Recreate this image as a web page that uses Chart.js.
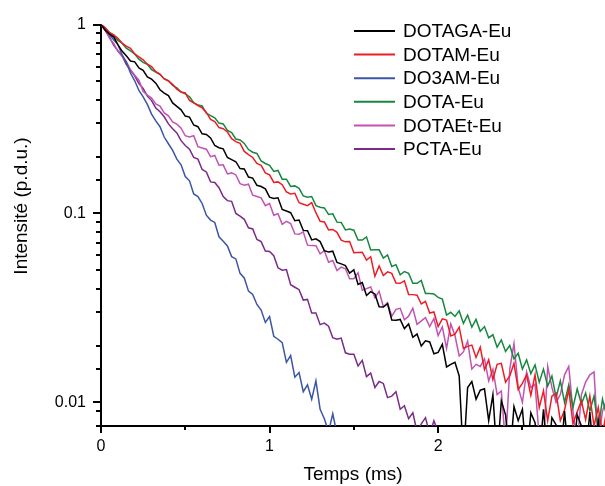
<!DOCTYPE html>
<html>
<head>
<meta charset="utf-8">
<script src="https://cdn.jsdelivr.net/npm/chart.js@4/dist/chart.umd.min.js"></script>
<style>
html,body{margin:0;padding:0;background:#fff;}
#wrap{width:605px;height:486px;position:relative;}
canvas{display:block;}
</style>
</head>
<body>
<div id="wrap"><canvas id="c" width="605" height="486"></canvas></div>
<script>
// time grid (ms)
const time = [0,0.025,0.05,0.075,0.1,0.125,0.15,0.175,0.2,0.225,
0.25,0.275,0.3,0.325,0.35,0.375,0.4,0.425,0.45,0.475,
0.5,0.525,0.55,0.575,0.6,0.625,0.65,0.675,0.7,0.725,
0.75,0.775,0.8,0.825,0.85,0.875,0.9,0.925,0.95,0.975,
1,1.025,1.05,1.075,1.1,1.125,1.15,1.175,1.2,1.225,
1.25,1.275,1.3,1.325,1.35,1.375,1.4,1.425,1.45,1.475,
1.5,1.525,1.55,1.575,1.6,1.625,1.65,1.675,1.7,1.725,
1.75,1.775,1.8,1.825,1.85,1.875,1.9,1.925,1.95,1.975,
2,2.025,2.05,2.075,2.1,2.125,2.15,2.175,2.2,2.225,
2.25,2.275,2.3,2.325,2.35,2.375,2.4,2.425,2.45,2.475,
2.5,2.525,2.55,2.575,2.6,2.625,2.65,2.675,2.7,2.725,
2.75,2.775,2.8,2.825,2.85,2.875,2.9,2.925,2.95,2.975,
3];

const dotaga = [1,0.933,0.891,0.861,0.784,0.724,0.684,0.642,0.635,0.589,
0.572,0.529,0.514,0.490,0.452,0.434,0.421,0.385,0.369,0.354,
0.328,0.324,0.294,0.288,0.264,0.262,0.251,0.229,0.223,0.220,
0.198,0.193,0.188,0.173,0.172,0.156,0.154,0.141,0.139,0.135,
0.122,0.120,0.121,0.105,0.103,0.101,0.0915,0.0923,0.0814,0.0810,
0.0725,0.0734,0.0710,0.0636,0.0625,0.0632,0.0551,0.0541,0.0530,0.0484,
0.0503,0.0421,0.0431,0.0368,0.0386,0.0375,0.0321,0.0320,0.0333,0.0273,
0.0272,0.0275,0.0246,0.0260,0.0221,0.0230,0.0199,0.0212,0.0209,0.0181,
0.0184,0.0203,0.0154,0.0159,0.0163,0.0138,0.0050,0.0120,0.0129,0.0104,
0.0116,0.0118,0.0080,0.0110,0.0050,0.0102,0.0086,0.0050,0.0095,0.0080,
0.0092,0.0050,0.0088,0.0078,0.0050,0.0092,0.0050,0.0083,0.0076,0.0050,
0.0090,0.0050,0.0050,0.0086,0.0075,0.0050,0.0089,0.0050,0.0080,0.0050,
0.0084];

const dotam = [1,0.961,0.905,0.881,0.846,0.798,0.769,0.748,0.699,0.675,
0.651,0.617,0.600,0.563,0.547,0.516,0.502,0.483,0.455,0.440,
0.435,0.397,0.385,0.373,0.362,0.343,0.315,0.307,0.285,0.281,
0.270,0.249,0.240,0.235,0.213,0.205,0.198,0.184,0.180,0.164,
0.160,0.146,0.147,0.142,0.130,0.127,0.128,0.114,0.112,0.110,
0.114,0.101,0.0910,0.0902,0.0819,0.0823,0.0795,0.0722,0.0708,0.0710,
0.0620,0.0622,0.0624,0.0566,0.0590,0.0465,0.0528,0.0469,0.0491,0.0482,
0.0429,0.0427,0.0440,0.0373,0.0372,0.0369,0.0332,0.0343,0.0297,0.0301,
0.0252,0.0277,0.0273,0.0225,0.0230,0.0250,0.0193,0.0198,0.0201,0.0173,
0.0196,0.0149,0.0168,0.0132,0.0159,0.0161,0.0128,0.0138,0.0161,0.0117,
0.0126,0.0140,0.0109,0.0140,0.0094,0.0115,0.0080,0.0108,0.0112,0.0080,
0.0091,0.0117,0.0077,0.0089,0.0102,0.0081,0.0108,0.0075,0.0094,0.0068,
0.0090];

const do3am = [1,0.953,0.887,0.832,0.784,0.694,0.633,0.554,0.504,0.448,
0.414,0.378,0.336,0.309,0.288,0.254,0.234,0.216,0.194,0.181,
0.157,0.149,0.127,0.123,0.113,0.0980,0.0923,0.0897,0.0753,0.0713,
0.0673,0.0591,0.0575,0.0482,0.0456,0.0388,0.0373,0.0330,0.0308,0.0265,
0.0285,0.0224,0.0216,0.0207,0.0163,0.0177,0.0136,0.0144,0.0114,0.0124,
0.0104,0.0130,0.0092,0.0082,0.0070,0.0087,0.0068];

const dota = [1,0.963,0.908,0.881,0.825,0.797,0.750,0.727,0.698,0.656,
0.631,0.617,0.578,0.561,0.544,0.517,0.505,0.476,0.463,0.439,
0.430,0.415,0.386,0.375,0.371,0.340,0.330,0.321,0.301,0.298,
0.275,0.268,0.248,0.245,0.235,0.218,0.211,0.208,0.190,0.184,
0.180,0.167,0.169,0.152,0.152,0.139,0.140,0.136,0.124,0.122,
0.123,0.110,0.108,0.107,0.0988,0.0996,0.0900,0.0897,0.0819,0.0828,
0.0816,0.0724,0.0724,0.0752,0.0641,0.0642,0.0642,0.0580,0.0603,0.0524,
0.0536,0.0474,0.0493,0.0482,0.0427,0.0427,0.0442,0.0377,0.0377,0.0375,
0.0360,0.0352,0.0290,0.0300,0.0285,0.0305,0.0262,0.0290,0.0250,0.0275,
0.0238,0.0252,0.0220,0.0228,0.0196,0.0214,0.0186,0.0200,0.0170,0.0182,
0.0150,0.0168,0.0142,0.0158,0.0128,0.0150,0.0122,0.0138,0.0106,0.0130,
0.0100,0.0124,0.0094,0.0118,0.0098,0.0112,0.0090,0.0108,0.0072,0.0104,
0.0085];

const dotaet = [1,0.936,0.848,0.794,0.722,0.679,0.636,0.577,0.540,0.508,
0.442,0.424,0.408,0.380,0.370,0.341,0.329,0.305,0.297,0.283,
0.258,0.254,0.258,0.226,0.222,0.219,0.200,0.203,0.180,0.181,
0.162,0.164,0.160,0.144,0.141,0.143,0.125,0.123,0.121,0.110,
0.113,0.0979,0.0997,0.0877,0.0909,0.0885,0.0780,0.0776,0.0800,0.0680,
0.0676,0.0675,0.0612,0.0635,0.0552,0.0564,0.0499,0.0520,0.0510,0.0451,
0.0452,0.0486,0.0392,0.0400,0.0408,0.0358,0.0387,0.0321,0.0337,0.0286,
0.0311,0.0315,0.0274,0.0286,0.0315,0.0259,0.0270,0.0281,0.0252,0.0278,
0.0226,0.0251,0.0193,0.0260,0.0226,0.0176,0.0185,0.0211,0.0150,0.0159,
0.0155,0.0170,0.0130,0.0150,0.0110,0.0115,0.0060,0.0150,0.0205,0.0120,
0.0100,0.0145,0.0120,0.0125,0.0065,0.0060,0.0155,0.0120,0.0100,0.0110,
0.0140,0.0155,0.0090,0.0060,0.0110,0.0128,0.0140,0.0145,0.0060,0.0090,
0.0103];

const pcta = [1,0.929,0.862,0.780,0.728,0.685,0.615,0.573,0.535,0.487,
0.459,0.418,0.396,0.362,0.346,0.325,0.298,0.281,0.267,0.243,
0.229,0.219,0.198,0.194,0.171,0.166,0.147,0.146,0.137,0.123,
0.117,0.116,0.100,0.0968,0.0931,0.0840,0.0828,0.0729,0.0710,0.0633,
0.0629,0.0598,0.0516,0.0501,0.0505,0.0420,0.0407,0.0395,0.0348,0.0351,
0.0297,0.0297,0.0258,0.0263,0.0253,0.0220,0.0216,0.0219,0.0183,0.0180,
0.0180,0.0156,0.0167,0.0137,0.0143,0.0120,0.0129,0.0126,0.0106,0.0108,
0.0114,0.0092,0.0096,0.0082,0.0088,0.0070,0.0077,0.0083,0.0068,0.0080,
0.0070];

const seriesNames = ['DOTAGA-Eu','DOTAM-Eu','DO3AM-Eu','DOTA-Eu','DOTAEt-Eu','PCTA-Eu'];
const seriesValues = [dotaga, dotam, do3am, dota, dotaet, pcta];
const seriesColors = ['#000000','#ED1C24','#3B56A6','#17873F','#C353B2','#7B2A8A'];
const yTickLabels = [1, 0.1, 0.01];
const xTickLabels = [0, 1, 2];

const FONT = '"Liberation Sans", Arial, Helvetica, sans-serif';
Chart.defaults.font.family = FONT;
Chart.defaults.color = '#000';

const datasets = seriesNames.map((name, i) => ({
  label: name,
  data: seriesValues[i].map((v, k) => ({x: time[k], y: v})),
  borderColor: seriesColors[i],
  backgroundColor: seriesColors[i],
  borderWidth: 1.5,
  pointRadius: 0,
  tension: 0,
  fill: false
}));

const isPow10 = v => { const l = Math.log10(v); return Math.abs(l - Math.round(l)) < 1e-6; };

const axisTicks = {
  id: 'axisTicks',
  afterDraw(chart) {
    const {ctx, chartArea: a} = chart;
    const xs = chart.scales.x, ys = chart.scales.y;
    ctx.save();
    ctx.strokeStyle = '#000';
    ctx.lineWidth = 2;
    xs.ticks.forEach(t => {
      const px = Math.round(xs.getPixelForValue(t.value));
      const major = Math.abs(t.value - Math.round(t.value)) < 1e-6;
      ctx.beginPath();
      ctx.moveTo(px, a.bottom);
      ctx.lineTo(px, a.bottom + (major ? 7 : 4));
      ctx.stroke();
    });
    ys.ticks.forEach(t => {
      const py = Math.round(ys.getPixelForValue(t.value));
      if (py < a.top - 1 || py > a.bottom + 1) return;
      const major = isPow10(t.value);
      ctx.beginPath();
      ctx.moveTo(a.left, py);
      ctx.lineTo(a.left - (major ? 8 : 5), py);
      ctx.stroke();
    });
    // y axis title
    ctx.save();
    ctx.translate(22, 206);
    ctx.rotate(-Math.PI / 2);
    ctx.font = '19px ' + FONT;
    ctx.fillStyle = '#000';
    ctx.textAlign = 'center';
    ctx.textBaseline = 'middle';
    ctx.fillText('Intensité (p.d.u.)', 0, 0);
    ctx.restore();
    ctx.restore();
  }
};

const legendBox = {
  id: 'legendBox',
  afterDraw(chart) {
    const ctx = chart.ctx;
    ctx.save();
    ctx.font = '19px ' + FONT;
    ctx.textBaseline = 'middle';
    ctx.textAlign = 'left';
    chart.data.datasets.forEach((ds, i) => {
      const y = 31 + i * 23.6;
      ctx.strokeStyle = ds.borderColor;
      ctx.lineWidth = 2;
      ctx.beginPath();
      ctx.moveTo(354, y);
      ctx.lineTo(395, y);
      ctx.stroke();
      ctx.fillStyle = '#000';
      ctx.fillText(ds.label, 403, y + 1);
    });
    ctx.restore();
  }
};

new Chart(document.getElementById('c'), {
  type: 'line',
  data: {datasets},
  options: {
    responsive: false,
    animation: false,
    devicePixelRatio: 1,
    layout: {padding: {top: 22, right: 0, left: 0, bottom: 0}},
    plugins: {legend: {display: false}, tooltip: {enabled: false}},
    scales: {
      x: {
        type: 'linear',
        min: 0,
        max: 2.99,
        grid: {display: false, drawTicks: false},
        border: {display: true, color: '#000', width: 2},
        ticks: {
          stepSize: 0.5,
          includeBounds: false,
          autoSkip: false,
          maxRotation: 0,
          padding: 11,
          font: {size: 16},
          callback: v => xTickLabels.includes(v) ? String(v) : ''
        },
        title: {display: true, text: 'Temps (ms)', font: {size: 19}, padding: {top: 0, bottom: 0}},
        afterFit: s => { s.height = 60; }
      },
      y: {
        type: 'logarithmic',
        min: 0.0075,
        max: 1,
        grid: {display: false, drawTicks: false},
        border: {display: true, color: '#000', width: 2},
        ticks: {
          includeBounds: false,
          autoSkip: false,
          padding: 15,
          font: {size: 16},
          callback: v => {
            const m = yTickLabels.find(t => Math.abs(Math.log10(t) - Math.log10(v)) < 1e-6);
            return m !== undefined ? String(m) : '';
          }
        },
        title: {display: false},
        afterFit: s => { s.width = 101; }
      }
    }
  },
  plugins: [axisTicks, legendBox]
});
</script>
</body>
</html>
